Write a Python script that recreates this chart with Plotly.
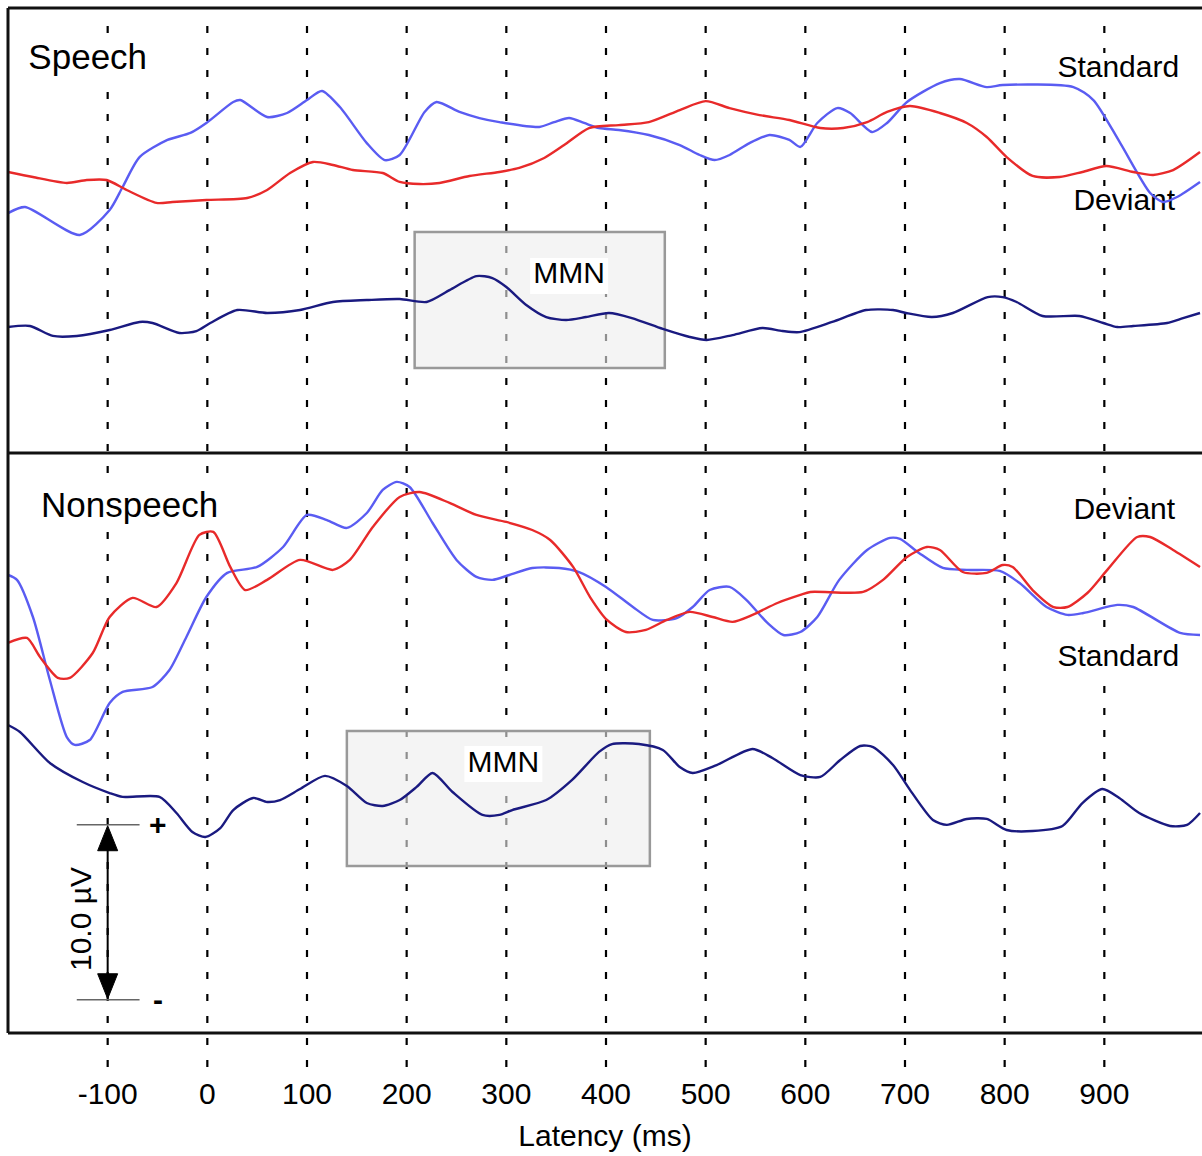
import plotly.graph_objects as go

FONT = "Liberation Sans, Arial, sans-serif"

# ---------------- data (latency in ms, amplitude in µV, panel-relative) ----------------
tick_vals = [-100, 0, 100, 200, 300, 400, 500, 600, 700, 800, 900]
tick_text = ["-100", "0", "100", "200", "300", "400", "500", "600", "700", "800", "900"]

# Speech panel
sp_std_t = [-200, -183, -128, -98, -85, -68, -40, -17, -1, 26, 33, 60, 80, 100, 115, 133, 160, 178, 193,
            218, 230, 253, 273, 293, 333, 348, 363, 378, 393, 413, 443, 474, 494, 509, 524, 544, 564, 584,
            595, 612, 632, 645, 667, 682, 702, 735, 755, 782, 798, 869, 889, 916, 946, 959, 973, 996]
sp_std = [13.71, 14.06, 12.46, 13.89, 15.20, 16.91, 17.89, 18.29, 18.86, 20.06, 20.17, 19.20, 19.43, 20.17,
          20.69, 19.77, 17.71, 16.74, 17.03, 19.49, 20.06, 19.49, 19.14, 18.91, 18.63, 18.91, 19.14, 18.86,
          18.57, 18.46, 18.17, 17.60, 17.03, 16.74, 17.03, 17.71, 18.17, 17.89, 17.49, 18.86, 19.71, 19.43,
          18.34, 18.86, 20.06, 21.14, 21.37, 20.91, 21.03, 20.91, 20.17, 17.71, 14.86, 14.34, 14.63, 15.49]

sp_dev_t = [-200, -175, -141, -121, -101, -81, -51, -35, -1, 40, 60, 83, 106, 126, 146, 176, 193, 213, 233,
            263, 293, 313, 338, 358, 383, 413, 443, 474, 500, 524, 554, 584, 615, 638, 662, 682, 705, 735,
            762, 782, 802, 828, 855, 878, 902, 929, 949, 969, 996]
sp_dev = [16.06, 15.77, 15.43, 15.60, 15.60, 15.03, 14.29, 14.34, 14.46, 14.57, 15.03, 16.00, 16.63, 16.46,
          16.17, 16.00, 15.49, 15.37, 15.43, 15.83, 16.06, 16.29, 16.86, 17.60, 18.57, 18.74, 18.91, 19.60,
          20.11, 19.71, 19.31, 19.03, 18.57, 18.57, 18.91, 19.49, 19.83, 19.43, 18.86, 18.06, 16.91, 15.83,
          15.77, 16.06, 16.40, 16.06, 15.89, 16.17, 17.20]

sp_mmn_t = [-200, -178, -155, -131, -98, -68, -55, -28, -11, 3, 30, 60, 93, 126, 160, 193, 220, 243, 270,
            286, 300, 320, 340, 360, 380, 403, 426, 457, 484, 501, 527, 557, 577, 594, 627, 661, 688, 701,
            727, 748, 783, 798, 812, 838, 875, 899, 913, 929, 963, 979, 996]
sp_mmn = [7.20, 7.26, 6.69, 6.69, 7.03, 7.49, 7.43, 6.86, 6.97, 7.43, 8.17, 8.00, 8.17, 8.63, 8.74, 8.80,
          8.63, 9.31, 10.11, 10.00, 9.49, 8.46, 7.77, 7.60, 7.77, 8.00, 7.71, 7.09, 6.63, 6.46, 6.74, 7.14,
          6.97, 6.91, 7.49, 8.17, 8.17, 8.00, 7.77, 8.00, 8.91, 8.91, 8.63, 7.83, 7.83, 7.43, 7.20, 7.26,
          7.43, 7.71, 8.00]

# Nonspeech panel
ns_std_t = [-200, -191, -175, -158, -141, -133, -118, -98, -85, -55, -38, -21, -1, 20, 50, 76, 100, 120,
            140, 160, 176, 190, 203, 226, 250, 270, 286, 303, 326, 353, 373, 400, 427, 447, 471, 487, 504,
            524, 541, 562, 578, 595, 612, 634, 662, 685, 695, 714, 738, 762, 795, 815, 842, 863, 879, 913,
            929, 976, 996]
ns_std = [26.17, 25.89, 23.77, 20.17, 16.91, 16.46, 16.74, 18.86, 19.49, 19.77, 20.74, 22.63, 24.91, 26.29,
          26.63, 27.77, 29.60, 29.31, 28.86, 29.71, 31.03, 31.49, 31.20, 29.14, 27.03, 26.06, 25.89, 26.17,
          26.57, 26.57, 26.34, 25.49, 24.34, 23.60, 23.71, 24.34, 25.31, 25.49, 24.74, 23.43, 22.74, 22.91,
          23.77, 25.89, 27.60, 28.29, 28.23, 27.43, 26.57, 26.46, 26.40, 25.71, 24.34, 23.89, 24.00, 24.46,
          24.34, 22.86, 22.74]

ns_dev_t = [-200, -181, -168, -150, -138, -115, -98, -75, -51, -31, -8, 6, 23, 38, 60, 93, 126, 143, 166,
            193, 213, 243, 270, 300, 326, 344, 367, 384, 401, 420, 440, 461, 484, 507, 527, 547, 572, 595,
            605, 658, 678, 702, 722, 735, 758, 782, 798, 808, 828, 849, 863, 883, 903, 933, 946, 969, 996]
ns_dev = [22.29, 22.57, 21.49, 20.29, 20.29, 21.71, 23.77, 24.86, 24.34, 25.71, 28.46, 28.63, 26.63, 25.31,
          25.89, 27.03, 26.46, 27.03, 28.91, 30.63, 30.91, 30.29, 29.60, 29.20, 28.74, 28.17, 26.63, 24.91,
          23.60, 22.91, 23.03, 23.60, 24.06, 23.77, 23.49, 23.89, 24.57, 25.03, 25.20, 25.20, 25.89, 27.20,
          27.77, 27.60, 26.34, 26.29, 26.74, 26.63, 25.31, 24.34, 24.34, 25.14, 26.46, 28.34, 28.34, 27.60,
          26.63]

ns_mmn_t = [-200, -188, -158, -125, -98, -85, -48, -31, -15, -2, 13, 26, 46, 60, 73, 93, 118, 140, 160,
            176, 193, 210, 226, 246, 276, 293, 306, 340, 366, 393, 406, 433, 457, 474, 487, 511, 547, 567,
            595, 615, 635, 655, 668, 688, 705, 728, 742, 762, 782, 802, 828, 858, 878, 898, 915, 935, 966,
            983, 996]
ns_mmn = [17.60, 17.20, 15.43, 14.34, 13.71, 13.49, 13.49, 12.57, 11.49, 11.20, 11.71, 12.74, 13.43, 13.20,
          13.31, 13.94, 14.69, 14.11, 13.14, 12.97, 13.31, 14.06, 14.86, 13.77, 12.46, 12.46, 12.74, 13.31,
          14.46, 16.06, 16.51, 16.51, 16.17, 15.20, 14.86, 15.31, 16.23, 15.71, 14.74, 14.63, 15.60, 16.40,
          16.34, 15.31, 13.89, 12.17, 11.89, 12.23, 12.23, 11.60, 11.54, 11.83, 13.14, 13.94, 13.43, 12.57,
          11.83, 11.89, 12.57]

# MMN windows (ms) and their amplitude extents
sp_box_t = [208, 459]
sp_box_v = [4.86, 12.63]
ns_box_t = [140, 444]
ns_box_v = [9.54, 17.26]

scale_uv = 10.0
scale_base = 1.9

# ---------------- styling ----------------
C_STD = "#5a5cf2"
C_DEV = "#e82a2a"
C_MMN = "#1a1a80"
LW = 2.4

TOP_RANGE = [0, 25.43]
BOT_RANGE = [0, 33.14]
SPLIT = 580 / 1025

fig = go.Figure()

# text labels (drawn beneath the waveforms)
labels = [
    ("y", -120, 22.46, "Speech", 35, 132, 40),
    ("y", 914, 21.89, "Standard", 30, 134, 34),
    ("y", 920, 14.29, "Deviant", 30, 114, 34),
    ("y", 363, 10.12, "MMN", 30, 78, 36),
    ("y2", -78, 30.0, "Nonspeech", 35, 195, 40),
    ("y2", 920, 29.77, "Deviant", 30, 114, 34),
    ("y2", 914, 21.37, "Standard", 30, 134, 34),
    ("y2", 297, 15.37, "MMN", 30, 78, 36),
]

shapes = []
# dashed latency markers
for tv in tick_vals:
    shapes.append(dict(type="line", xref="x", yref="paper", x0=tv, x1=tv, y0=-0.0332, y1=0.9932,
                       line=dict(color="black", width=2.2, dash="7px,15px"), layer="below"))
# MMN windows
for yr, bt, bv in (("y", sp_box_t, sp_box_v), ("y2", ns_box_t, ns_box_v)):
    shapes.append(dict(type="rect", xref="x", yref=yr, x0=bt[0], x1=bt[1], y0=bv[0], y1=bv[1],
                       fillcolor="rgba(236,236,236,0.6)", line=dict(color="#999999", width=2.5),
                       layer="below"))
# white backgrounds behind labels
for yr, lx, ly, txt, fs, w, h in labels:
    shapes.append(dict(type="rect", xref="x", yref=yr, xsizemode="pixel", ysizemode="pixel",
                       xanchor=lx, yanchor=ly, x0=-w / 2, x1=w / 2, y0=-h / 2, y1=h / 2,
                       fillcolor="white", line=dict(width=0), layer="below"))

for yr in ("y", "y2"):
    sub = [l for l in labels if l[0] == yr]
    fig.add_trace(go.Scatter(x=[l[1] for l in sub], y=[l[2] for l in sub], text=[l[3] for l in sub],
                             mode="text", textposition="middle center",
                             textfont=dict(family=FONT, size=[l[4] for l in sub], color="black"),
                             xaxis="x", yaxis=yr, hoverinfo="skip", showlegend=False))

def add_wave(t, v, color, yr):
    fig.add_trace(go.Scatter(x=t, y=v, mode="lines", line=dict(color=color, width=LW, shape="spline",
                                                               smoothing=0.7),
                             xaxis="x", yaxis=yr, hoverinfo="skip", showlegend=False))

add_wave(sp_std_t, sp_std, C_STD, "y")
add_wave(sp_dev_t, sp_dev, C_DEV, "y")
add_wave(sp_mmn_t, sp_mmn, C_MMN, "y")
add_wave(ns_std_t, ns_std, C_STD, "y2")
add_wave(ns_dev_t, ns_dev, C_DEV, "y2")
add_wave(ns_mmn_t, ns_mmn, C_MMN, "y2")

# scale bar (10 µV)
s_top = scale_base + scale_uv
for yv in (scale_base, s_top):
    shapes.append(dict(type="line", xref="x", yref="y2", x0=-131, x1=-68, y0=yv, y1=yv,
                       line=dict(color="#666666", width=1.5)))
shapes.append(dict(type="line", xref="x", yref="y2", x0=-100, x1=-100, y0=scale_base + 0.8, y1=s_top - 0.8,
                   line=dict(color="black", width=2)))
shapes.append(dict(type="path", xref="x", yref="y2", xsizemode="pixel", ysizemode="pixel",
                   xanchor=-100, yanchor=s_top, path="M 0,-1 L -10,-26 L 10,-26 Z",
                   fillcolor="black", line=dict(color="black", width=1)))
shapes.append(dict(type="path", xref="x", yref="y2", xsizemode="pixel", ysizemode="pixel",
                   xanchor=-100, yanchor=scale_base, path="M 0,1 L -10,26 L 10,26 Z",
                   fillcolor="black", line=dict(color="black", width=1)))

# panel frames
for y0 in (0, SPLIT, 1):
    shapes.append(dict(type="line", xref="paper", yref="paper", x0=0, x1=1, y0=y0, y1=y0,
                       line=dict(color="#111111", width=3)))
shapes.append(dict(type="line", xref="paper", yref="paper", x0=0, x1=0, y0=0, y1=1,
                   line=dict(color="#111111", width=3)))

annotations = [
    dict(x=-50, y=s_top, xref="x", yref="y2", text="<b>+</b>", showarrow=False,
         font=dict(family=FONT, size=30, color="black")),
    dict(x=-50, y=scale_base, xref="x", yref="y2", text="<b>-</b>", showarrow=False,
         font=dict(family=FONT, size=30, color="black")),
    dict(x=-128, y=6.5, xref="x", yref="y2", text="10.0 µV", textangle=-90, showarrow=False,
         font=dict(family=FONT, size=30, color="black")),
]

fig.update_layout(
    width=1202, height=1156,
    margin=dict(l=8, r=0, t=8, b=123, autoexpand=False),
    paper_bgcolor="white", plot_bgcolor="white",
    showlegend=False,
    shapes=shapes, annotations=annotations,
    xaxis=dict(domain=[0, 1], range=[-200, 998], anchor="y2", tickvals=tick_vals, ticktext=tick_text,
               showgrid=False, zeroline=False, showline=False, ticks="", ticklabelstandoff=40,
               tickfont=dict(family=FONT, size=30, color="black"), automargin=False,
               title=dict(text="Latency (ms)", font=dict(family=FONT, size=30, color="black"), standoff=15)),
    yaxis=dict(domain=[SPLIT, 1], range=TOP_RANGE, visible=False, anchor="x", fixedrange=True),
    yaxis2=dict(domain=[0, SPLIT], range=BOT_RANGE, visible=False, anchor="x", fixedrange=True),
)

fig.write_html("out.html")
